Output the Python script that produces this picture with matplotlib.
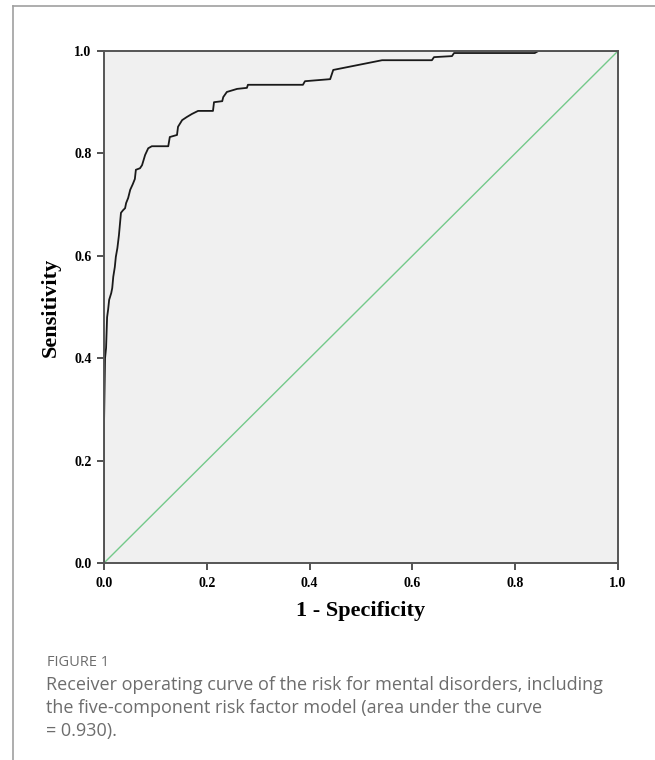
import matplotlib.pyplot as plt
from matplotlib.lines import Line2D

# ROC curve vertices (1 - specificity, sensitivity)
fpr = [0.000, 0.000, 0.002, 0.004, 0.006, 0.008, 0.010, 0.014, 0.016, 0.018,
       0.021, 0.023, 0.026, 0.029, 0.033, 0.037, 0.041, 0.043, 0.047, 0.051,
       0.056, 0.060, 0.062, 0.070, 0.074, 0.080, 0.086, 0.093, 0.103, 0.125,
       0.128, 0.142, 0.144, 0.152, 0.161, 0.171, 0.183, 0.212, 0.214, 0.230,
       0.232, 0.239, 0.259, 0.278, 0.280, 0.387, 0.391, 0.440, 0.446, 0.541,
       0.638, 0.642, 0.677, 0.681, 0.838, 0.845, 1.000]
tpr = [0.000, 0.270, 0.400, 0.420, 0.480, 0.495, 0.514, 0.527, 0.537, 0.559,
       0.578, 0.598, 0.615, 0.640, 0.684, 0.689, 0.693, 0.703, 0.713, 0.729,
       0.740, 0.750, 0.768, 0.771, 0.777, 0.797, 0.810, 0.814, 0.814, 0.814,
       0.832, 0.836, 0.852, 0.865, 0.871, 0.877, 0.883, 0.883, 0.900, 0.902,
       0.910, 0.920, 0.926, 0.928, 0.934, 0.934, 0.941, 0.945, 0.963, 0.982,
       0.982, 0.988, 0.990, 0.996, 0.996, 1.000, 1.000]

ticks = [0.0, 0.2, 0.4, 0.6, 0.8, 1.0]
tick_labels = ["0.0", "0.2", "0.4", "0.6", "0.8", "1.0"]

caption_title = "FIGURE 1"
caption_lines = [
    "Receiver operating curve of the risk for mental disorders, including",
    "the five-component risk factor model (area under the curve",
    "= 0.930).",
]

fig = plt.figure(figsize=(6.55, 7.6), dpi=100)

# page frame (left and top edges only)
fig.add_artist(Line2D([0.020, 0.020], [0.0, 0.992], color="#a0a0a0", lw=1.2))
fig.add_artist(Line2D([0.020, 1.0], [0.992, 0.992], color="#a0a0a0", lw=1.2))

ax = fig.add_axes([0.1588, 0.2592, 0.7847, 0.6737])
ax.set_facecolor("#f0f0f0")
ax.plot([0, 1], [0, 1], color="#74c98a", lw=1.0)
ax.plot(fpr, tpr, color="#1a1a1a", lw=1.3)

ax.set_xlim(0, 1)
ax.set_ylim(0, 1)
ax.set_xticks(ticks)
ax.set_yticks(ticks)
tick_font = dict(family="Liberation Serif", weight="bold", size=10)
ax.set_xticklabels(tick_labels, fontdict=tick_font)
ax.set_yticklabels(tick_labels, fontdict=tick_font)
ax.tick_params(direction="out", length=5, width=1.2, color="#333333", pad=4)
ax.tick_params(axis="x", pad=5)
for s in ax.spines.values():
    s.set_color("#555555")
    s.set_linewidth(1.4)

label_font = dict(family="Liberation Serif", weight="bold", size=16)
ax.set_xlabel("1 - Specificity", fontdict=label_font)
ax.set_ylabel("Sensitivity", fontdict=label_font)
ax.xaxis.set_label_coords(0.5, -0.074)
ax.yaxis.set_label_coords(-0.085, 0.5)

fig.text(0.072, 0.1237, caption_title, family="Open Sans", size=10.5,
         color="#6d6d6d")
for i, line in enumerate(caption_lines):
    fig.text(0.070, 0.0921 - i * 0.0303, line, family="Open Sans", size=13,
             color="#6d6d6d")

plt.savefig("out.png", dpi=100)
plt.close()
